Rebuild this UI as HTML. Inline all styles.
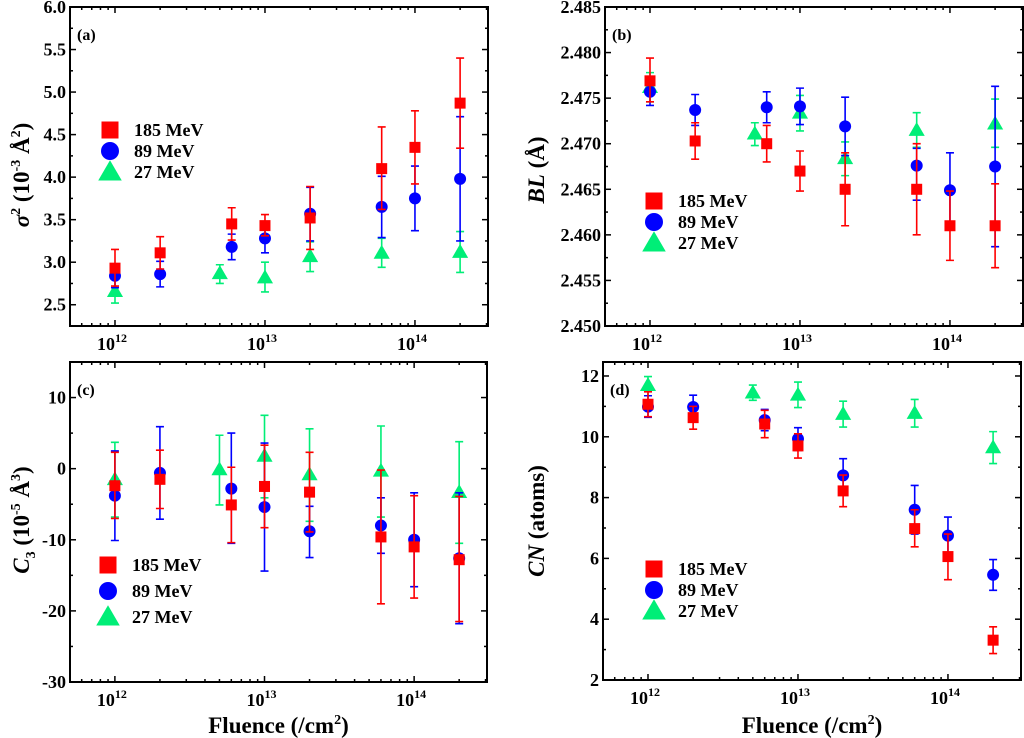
<!DOCTYPE html>
<html><head><meta charset="utf-8"><style>
html,body{margin:0;padding:0;background:#fff;}
svg{display:block;font-family:"Liberation Serif",serif;font-weight:bold;}
</style></head><body>
<svg id="fig" width="1024" height="738" viewBox="0 0 1024 738" xmlns="http://www.w3.org/2000/svg"></svg>
<script>
// Shared categories (fluence, /cm^2)
const fluenceMain = [1e12, 2e12, 6e12, 1e13, 2e13, 6e13, 1e14, 2e14];
const fluence27 = [1e12, 5e12, 1e13, 2e13, 6e13, 2e14];

// Panel (a) sigma^2
const a185 = [2.93, 3.11, 3.45, 3.43, 3.52, 4.10, 4.35, 4.87];
const a185hi = [3.15, 3.30, 3.64, 3.56, 3.89, 4.59, 4.78, 5.40];
const a185lo = [2.72, 2.92, 3.26, 3.31, 3.15, 3.62, 3.92, 4.34];
const a89 = [2.84, 2.86, 3.18, 3.28, 3.57, 3.65, 3.75, 3.98];
const a89hi = [2.98, 3.01, 3.33, 3.46, 3.88, 4.01, 4.13, 4.71];
const a89lo = [2.70, 2.71, 3.03, 3.11, 3.25, 3.29, 3.37, 3.25];
const a27 = [2.66, 2.87, 2.82, 3.07, 3.11, 3.12];
const a27hi = [2.80, 2.97, 3.00, 3.24, 3.28, 3.36];
const a27lo = [2.52, 2.75, 2.65, 2.89, 2.94, 2.88];
const aTicks = ["2.5","3.0","3.5","4.0","4.5","5.0","5.5","6.0"];

// Panel (b) BL
const b185 = [2.4769, 2.4703, 2.4700, 2.4670, 2.4650, 2.4650, 2.4610, 2.4610];
const b185hi = [2.4794, 2.4723, 2.4720, 2.4692, 2.4690, 2.4700, 2.4648, 2.4656];
const b185lo = [2.4746, 2.4683, 2.4680, 2.4648, 2.4610, 2.4600, 2.4572, 2.4564];
const b89 = [2.4757, 2.4737, 2.4740, 2.4741, 2.4719, 2.4676, 2.4649, 2.4675];
const b89hi = [2.4772, 2.4754, 2.4757, 2.4761, 2.4751, 2.4695, 2.4690, 2.4763];
const b89lo = [2.4742, 2.4720, 2.4723, 2.4721, 2.4687, 2.4638, 2.4609, 2.4587];
const b27 = [2.4762, 2.4711, 2.4734, 2.4684, 2.4715, 2.4722];
const b27hi = [2.4778, 2.4723, 2.4753, 2.4702, 2.4734, 2.4749];
const b27lo = [2.4746, 2.4698, 2.4714, 2.4665, 2.4696, 2.4696];
const bTicks = ["2.450","2.455","2.460","2.465","2.470","2.475","2.480","2.485"];

// Panel (c) C3
const c185 = [-2.4, -1.5, -5.1, -2.5, -3.3, -9.6, -11.0, -12.8];
const c185hi = [2.3, 2.6, 0.2, 3.3, 2.3, -0.2, -3.8, -3.9];
const c185lo = [-7.0, -5.6, -10.4, -8.3, -8.9, -19.0, -18.2, -21.5];
const c89 = [-3.8, -0.6, -2.8, -5.4, -8.8, -8.0, -10.0, -12.6];
const c89hi = [2.5, 5.9, 5.0, 3.6, -5.3, -4.1, -3.4, -3.4];
const c89lo = [-10.1, -7.1, -10.5, -14.4, -12.5, -11.9, -16.6, -21.8];
const c27 = [-1.5, -0.1, 1.8, -0.8, -0.3, -3.3];
const c27hi = [3.7, 4.7, 7.5, 5.6, 6.0, 3.8];
const c27lo = [-6.8, -5.1, -4.1, -7.4, -6.8, -10.5];
const cTicks = ["-30","-20","-10","0","10"];

// Panel (d) CN
const d185 = [11.07, 10.63, 10.42, 9.70, 8.22, 6.98, 6.06, 3.31];
const d185hi = [11.48, 11.00, 10.87, 10.10, 8.74, 7.60, 6.80, 3.75];
const d185lo = [10.66, 10.25, 9.97, 9.30, 7.70, 6.38, 5.30, 2.87];
const d89 = [10.99, 10.98, 10.55, 9.93, 8.73, 7.60, 6.75, 5.46];
const d89hi = [11.35, 11.37, 10.90, 10.30, 9.28, 8.40, 7.36, 5.96];
const d89lo = [10.64, 10.60, 10.20, 9.55, 8.20, 6.80, 6.14, 4.95];
const d27 = [11.70, 11.45, 11.38, 10.75, 10.78, 9.65];
const d27hi = [11.98, 11.70, 11.80, 11.17, 11.23, 10.17];
const d27lo = [11.35, 11.20, 10.96, 10.32, 10.32, 9.12];
const dTicks = ["2","4","6","8","10","12"];

const xTickExp = ["12","13","14"];
const legendLabels = ["185 MeV","89 MeV","27 MeV"];

const NS = "http://www.w3.org/2000/svg";
const svg = document.getElementById('fig');
const RED = "#ff0000", BLUE = "#0000ff", GREEN = "#00ee77";
function mk(tag, attrs, parent) {
  const e = document.createElementNS(NS, tag);
  for (const k in attrs) e.setAttribute(k, attrs[k]);
  (parent || svg).appendChild(e);
  return e;
}
function marker(g, shape, cx, cy, s, color) {
  let m;
  if (shape === 'sq') m = mk('rect', {x: cx - s/2, y: cy - s/2, width: s, height: s, fill: color}, g);
  else if (shape === 'ci') m = mk('circle', {cx: cx, cy: cy, r: s/2 + 0.5, fill: color}, g);
  else m = mk('polygon', {points: `${cx},${cy - s*0.62} ${cx - s*0.62},${cy + s*0.45} ${cx + s*0.62},${cy + s*0.45}`, fill: color}, g);
  return m;
}

function panel(cfg) {
  const g = mk('g', {});
  
  
  const {L, R, T, B, ymin, ymax} = cfg;
  const lx0 = 11.7, lx1 = 14.487;
  const X = v => L + (Math.log10(v) - lx0) / (lx1 - lx0) * (R - L);
  const Y = v => B - (v - ymin) / (ymax - ymin) * (B - T);
  const fr = mk('rect', {x: L, y: T, width: R - L, height: B - T, fill: 'none', stroke: '#000', 'stroke-width': 2}, g);
  
  
  for (let d = 11; d <= 14; d++) {
    for (let m = 1; m <= 9; m++) {
      const v = m * Math.pow(10, d);
      const lv = Math.log10(v);
      if (lv < lx0 || lv > lx1) continue;
      const x = X(v), len = m === 1 ? 6 : 3;
      mk('line', {x1: x, x2: x, y1: B, y2: B - len, stroke: '#000', 'stroke-width': 1.5}, g);
      mk('line', {x1: x, x2: x, y1: T, y2: T + len, stroke: '#000', 'stroke-width': 1.5}, g);
    }
  }
  xTickExp.forEach(e => {
    const x = X(Math.pow(10, +e));
    const t = mk('text', {x: x - 3, y: B + 24, 'font-size': 18, 'text-anchor': 'middle'}, g);
    
    
    t.textContent = '10';
    const s = mk('tspan', {dy: -8, 'font-size': 12}, t);
    s.textContent = e;
  });
  const tv = cfg.ticks.map(Number);
  const step = tv[1] - tv[0];
  for (let i = 0; i < tv.length; i++) {
    const y = Y(tv[i]);
    mk('line', {x1: L, x2: L + 6, y1: y, y2: y, stroke: '#000', 'stroke-width': 1.5}, g);
    mk('line', {x1: R, x2: R - 6, y1: y, y2: y, stroke: '#000', 'stroke-width': 1.5}, g);
    const t = mk('text', {x: L - 4, y: y + 6, 'font-size': 18, 'text-anchor': 'end'}, g);
    
    
    t.textContent = cfg.ticks[i];
  }
  for (let v = tv[0] - step / 2; v <= ymax; v += step) {
    if (v < ymin) continue;
    const y = Y(v);
    mk('line', {x1: L, x2: L + 3, y1: y, y2: y, stroke: '#000', 'stroke-width': 1.5}, g);
    mk('line', {x1: R, x2: R - 3, y1: y, y2: y, stroke: '#000', 'stroke-width': 1.5}, g);
  }
  const series = [
    {xs: fluence27, v: cfg.s27, hi: cfg.s27hi, lo: cfg.s27lo, c: GREEN, sh: 'tr', n: 'series-27mev'},
    {xs: fluenceMain, v: cfg.s89, hi: cfg.s89hi, lo: cfg.s89lo, c: BLUE, sh: 'ci', n: 'series-89mev'},
    {xs: fluenceMain, v: cfg.s185, hi: cfg.s185hi, lo: cfg.s185lo, c: RED, sh: 'sq', n: 'series-185mev'}
  ];
  series.forEach(s => {
    const sg = mk('g', {}, g);
    
    
    s.xs.forEach((f, i) => {
      const x = X(f);
      const e = mk('path', {d: `M${x},${Y(s.hi[i])}V${Y(s.lo[i])}M${x-4},${Y(s.hi[i])}h8M${x-4},${Y(s.lo[i])}h8`, stroke: s.c, 'stroke-width': 1.6, fill: 'none'}, sg);
      
      
      const m = marker(sg, s.sh, x, Y(s.v[i]), s.sh === 'tr' ? 13 : 11, s.c);
      
      
    });
  });
  const lg = mk('g', {}, g);
  
  
  const shapes = ['sq', 'ci', 'tr'], cols = [RED, BLUE, GREEN];
  legendLabels.forEach((lab, i) => {
    const y = cfg.legY + i * cfg.legDy;
    marker(lg, shapes[i], cfg.legX, y, shapes[i] === 'tr' ? 19 : 17, cols[i]);
    const t = mk('text', {x: cfg.legX + 24, y: y + 6, 'font-size': 18}, lg);
    
    
    t.textContent = lab;
  });
  const pl = mk('text', {x: L + 7, y: T + 33, 'font-size': 16}, g);
  
  
  pl.textContent = cfg.label;
  const yt = mk('text', {x: 0, y: 0, 'font-size': 23, 'text-anchor': 'middle', transform: `translate(${cfg.ytX},${cfg.ytY}) rotate(-90)`}, g);
  
  
  yt.innerHTML = cfg.ytitle;
  if (cfg.xtitle) {
    const xt = mk('text', {x: (L + R) / 2, y: 733, 'font-size': 23, 'text-anchor': 'middle'}, g);
    
    
    xt.innerHTML = 'Fluence (/cm<tspan dy="-9" font-size="14">2</tspan><tspan dy="9">)</tspan>';
  }
}

panel({name: 'panel-a', L: 70, R: 488, T: 7, B: 326, ymin: 2.25, ymax: 6.0, ticks: aTicks,
  s185: a185, s185hi: a185hi, s185lo: a185lo, s89: a89, s89hi: a89hi, s89lo: a89lo, s27: a27, s27hi: a27hi, s27lo: a27lo,
  legX: 110, legY: 130, legDy: 21, label: '(a)', ytX: 29, ytY: 175,
  ytitle: '<tspan font-style="italic">σ</tspan><tspan dy="-9" font-size="14">2</tspan><tspan dy="9"> (10</tspan><tspan dy="-9" font-size="14">-3</tspan><tspan dy="9"> Å</tspan><tspan dy="-9" font-size="14">2</tspan><tspan dy="9">)</tspan>'});
panel({name: 'panel-b', L: 605, R: 1023, T: 7, B: 326, ymin: 2.450, ymax: 2.485, ticks: bTicks,
  s185: b185, s185hi: b185hi, s185lo: b185lo, s89: b89, s89hi: b89hi, s89lo: b89lo, s27: b27, s27hi: b27hi, s27lo: b27lo,
  legX: 654, legY: 201, legDy: 21, label: '(b)', ytX: 544, ytY: 170,
  ytitle: '<tspan font-style="italic">BL</tspan> (Å)'});
panel({name: 'panel-c', L: 70, R: 487, T: 362, B: 682, ymin: -30, ymax: 15, ticks: cTicks,
  s185: c185, s185hi: c185hi, s185lo: c185lo, s89: c89, s89hi: c89hi, s89lo: c89lo, s27: c27, s27hi: c27hi, s27lo: c27lo,
  legX: 108, legY: 565, legDy: 26, label: '(c)', ytX: 29, ytY: 520,
  ytitle: '<tspan font-style="italic">C</tspan><tspan dy="6" font-size="14">3</tspan><tspan dy="-6"> (10</tspan><tspan dy="-9" font-size="14">-5</tspan><tspan dy="9"> Å</tspan><tspan dy="-9" font-size="14">3</tspan><tspan dy="9">)</tspan>',
  xtitle: true});
panel({name: 'panel-d', L: 603, R: 1021, T: 362, B: 680, ymin: 2, ymax: 12.46, ticks: dTicks,
  s185: d185, s185hi: d185hi, s185lo: d185lo, s89: d89, s89hi: d89hi, s89lo: d89lo, s27: d27, s27hi: d27hi, s27lo: d27lo,
  legX: 654, legY: 569, legDy: 21, label: '(d)', ytX: 544, ytY: 521,
  ytitle: '<tspan font-style="italic">CN</tspan> (atoms)', xtitle: true});
</script>
</body></html>
